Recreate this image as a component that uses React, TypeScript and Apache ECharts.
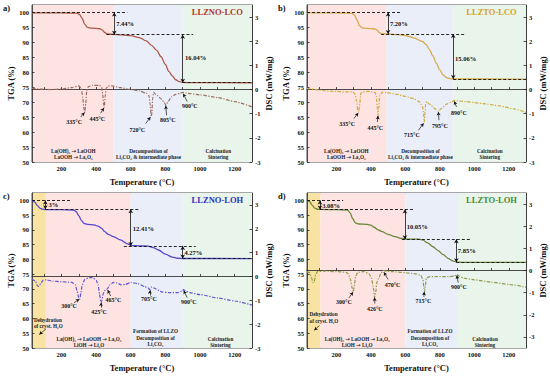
import React, { useEffect, useRef } from 'react';
import * as echarts from 'echarts';

const FONT = '"Liberation Serif", "Times New Roman", serif';

// ---------- ticks ----------
const xLabelValues = [200, 400, 600, 800, 1000, 1200];
const xTickValues = [100, 200, 300, 400, 500, 600, 700, 800, 900, 1000, 1100, 1200];
const tgaTickValues = [50, 55, 60, 65, 70, 75, 80, 85, 90, 95, 100];
const dscTickValues = [-3, -2, -1, 0, 1, 2, 3];

// ---------- TGA data (Temperature °C, mass %) ----------
const tgaA = [[30,99.9],[150,99.88],[250,99.82],[290,99.75],[305,99.3],[320,98.0],[335,96.0],[350,95.0],[375,94.75],[420,94.55],[435,94.2],[450,93.3],[465,92.8],[500,92.65],[550,92.5],[600,92.25],[650,91.6],[690,90.5],[720,89.0],[750,87.3],[775,85.2],[800,82.6],[820,80.3],[840,78.8],[860,77.5],[880,76.9],[900,76.6],[950,76.52],[1300,76.5]];
const tgaB = [[30,99.9],[150,99.88],[250,99.82],[290,99.7],[305,99.2],[320,97.5],[335,95.5],[350,94.85],[380,94.7],[420,94.55],[435,94.2],[448,93.3],[460,92.9],[500,92.8],[560,92.6],[600,92.3],[650,91.5],[700,90.3],[720,89.3],[740,87.6],[760,85.5],[780,83.0],[800,80.8],[820,79.1],[840,78.2],[860,77.85],[880,77.75],[1300,77.74]];
const tgaC = [[30,100],[45,99.5],[60,98.3],[75,97.4],[90,97.05],[110,96.9],[200,96.85],[270,96.75],[285,96.2],[300,94.8],[315,93.2],[330,92.2],[350,91.9],[390,91.7],[410,91.3],[430,90.6],[450,89.4],[470,88.5],[500,87.7],[540,86.6],[580,85.3],[605,84.7],[650,84.6],[700,84.5],[730,84.0],[760,83.2],[800,81.8],[840,80.8],[870,80.4],[900,80.32],[1300,80.3]];
const tgaD = [[30,100],[45,99.6],[60,98.4],[75,97.4],[90,97.0],[110,96.92],[200,96.85],[265,96.75],[280,95.8],[295,93.8],[310,92.4],[330,92.0],[380,91.85],[400,91.6],[420,90.9],[440,90.1],[465,89.4],[500,88.5],[540,87.7],[580,87.1],[610,86.9],[680,86.85],[700,86.6],[730,85.6],[760,84.3],[790,83.0],[820,81.6],[850,80.3],[875,79.5],[900,79.1],[930,79.02],[1300,79.0]];

// ---------- DSC data (Temperature °C, mW/mg) ----------
const dscA = [[30,0.05],[80,0.02],[140,0.0],[200,0.02],[260,0.08],[300,0.15],[315,0.05],[322,-0.3],[330,-0.8],[335,-0.95],[340,-0.6],[346,-0.05],[355,0.12],[380,0.17],[420,0.17],[432,0.1],[438,-0.2],[444,-0.65],[447,-0.75],[452,-0.3],[458,0.05],[470,0.15],[490,0.15],[540,0.08],[600,0.0],[650,-0.06],[690,-0.15],[705,-0.25],[712,-0.6],[718,-1.12],[722,-1.0],[726,-0.4],[732,-0.12],[745,-0.2],[770,-0.35],[790,-0.5],[803,-0.65],[815,-0.5],[835,-0.3],[860,-0.2],[885,-0.15],[900,-0.12],[920,-0.15],[1000,-0.22],[1100,-0.33],[1200,-0.5],[1300,-0.72]];
const dscB = [[30,0.05],[80,0.0],[140,-0.06],[200,-0.08],[260,-0.1],[295,-0.1],[310,-0.2],[318,-0.5],[325,-0.9],[330,-0.93],[336,-0.6],[342,-0.15],[355,-0.1],[380,-0.08],[425,-0.12],[433,-0.3],[438,-0.8],[442,-1.07],[446,-0.8],[452,-0.25],[465,-0.12],[490,-0.12],[550,-0.2],[600,-0.28],[650,-0.38],[680,-0.5],[700,-0.7],[706,-1.0],[710,-1.35],[714,-1.0],[718,-0.6],[724,-0.5],[740,-0.6],[770,-0.78],[792,-0.9],[810,-0.78],[840,-0.6],[870,-0.5],[885,-0.45],[900,-0.47],[950,-0.5],[1050,-0.58],[1150,-0.68],[1230,-0.8],[1300,-0.95]];
const dscC = [[30,-0.1],[50,-0.2],[62,-0.4],[70,-0.42],[80,-0.3],[95,-0.15],[110,-0.14],[150,-0.2],[200,-0.22],[260,-0.25],[280,-0.35],[290,-0.6],[300,-0.9],[306,-0.96],[312,-0.7],[320,-0.35],[335,-0.12],[360,-0.05],[380,-0.05],[400,-0.15],[412,-0.35],[420,-0.75],[428,-1.1],[434,-1.0],[440,-0.75],[448,-0.6],[455,-0.58],[465,-0.52],[480,-0.35],[500,-0.25],[520,-0.27],[545,-0.35],[570,-0.33],[600,-0.25],[640,-0.3],[680,-0.42],[700,-0.48],[710,-0.55],[718,-0.45],[730,-0.48],[780,-0.65],[820,-0.68],[870,-0.68],[895,-0.62],[905,-0.55],[915,-0.6],[940,-0.68],[1000,-0.76],[1100,-0.9],[1200,-1.03],[1300,-1.2]];
const dscD = [[30,-0.05],[45,-0.1],[55,-0.3],[65,-0.55],[72,-0.5],[80,-0.2],[90,-0.05],[130,-0.03],[200,-0.05],[255,-0.08],[270,-0.15],[282,-0.4],[292,-0.8],[298,-0.97],[304,-0.7],[312,-0.25],[325,-0.08],[360,-0.05],[390,-0.15],[405,-0.35],[415,-0.8],[422,-1.22],[428,-1.0],[436,-0.5],[448,-0.3],[460,-0.1],[472,0.0],[490,-0.03],[520,-0.05],[600,-0.1],[660,-0.15],[690,-0.22],[702,-0.4],[708,-0.75],[712,-0.95],[716,-0.7],[722,-0.35],[740,-0.28],[790,-0.27],[850,-0.28],[885,-0.25],[900,-0.18],[912,-0.25],[940,-0.35],[1000,-0.42],[1100,-0.53],[1200,-0.63],[1300,-0.75]];

// ---------- shaded regions [from, to, kind] ----------
const regionsA = [[30, 500, 'pink'], [500, 900, 'blue'], [900, 1300, 'green']];
const regionsB = [[30, 492, 'pink'], [492, 880, 'blue'], [880, 1300, 'green']];
const regionsC = [[30, 110, 'yellow'], [110, 600, 'pink'], [600, 900, 'blue'], [900, 1300, 'green']];
const regionsD = [[30, 108, 'yellow'], [108, 600, 'pink'], [600, 900, 'blue'], [900, 1300, 'green']];

// ---------- mass-loss steps ----------
const dashesA = [[30, 580, 100], [460, 960, 92.56], [900, 1300, 76.52]];
const dashesB = [[30, 580, 100], [460, 950, 92.8], [878, 1300, 77.74]];
const dashesC = [[30, 250, 100], [107, 650, 97], [560, 975, 84.59], [900, 1300, 80.32]];
const dashesD = [[30, 240, 100], [105, 650, 96.92], [580, 975, 86.87], [896, 1300, 79.02]];

const stepArrowsA = [[505, 100, 92.56], [900, 92.56, 76.52]];
const stepArrowsB = [[500, 100, 92.8], [878, 92.8, 77.74]];
const stepArrowsC = [[107, 100, 97], [600, 97, 84.59], [900, 84.59, 80.32]];
const stepArrowsD = [[105, 100, 96.92], [598, 96.92, 86.87], [896, 86.87, 79.02]];

const stepLabelsA = [{ text: '7.44%', at: [513, 96.2] }, { text: '16.04%', at: [911, 85.0] }];
const stepLabelsB = [{ text: '7.20%', at: [508, 96.2] }, { text: '15.06%', at: [886, 84.6] }];
const stepLabelsC = [{ text: '3%', at: [122, 98.5] }, { text: '12.41%', at: [609, 90.4] }, { text: '4.27%', at: [907, 82.4] }];
const stepLabelsD = [{ text: '3.08%', at: [115, 98.4] }, { text: '10.05%', at: [605, 91.3] }, { text: '7.85%', at: [902, 82.9] }];

// ---------- DSC peak annotations ----------
const peaksA = [
  { text: '335°C', at: [273, -1.34], from: [311, -1.14], to: [333, -0.95] },
  { text: '445°C', at: [407, -1.2], from: [426, -0.98], to: [445, -0.76] },
  { text: '720°C', at: [638, -1.66], from: [686, -1.41], to: [714, -1.14] },
  { text: '805°C', at: [814, -1.27], from: [807, -1.07], to: [802, -0.67] },
  { text: '900°C', at: [941, -0.7], from: [926, -0.5], to: [903, -0.17] },
];
const peaksB = [
  { text: '335°C', at: [263, -1.41], from: [302, -1.2], to: [327, -0.97] },
  { text: '445°C', at: [426, -1.58], from: [438, -1.34], to: [442, -1.09] },
  { text: '715°C', at: [638, -1.9], from: [676, -1.69], to: [706, -1.4] },
  { text: '795°C', at: [801, -1.52], from: [795, -1.27], to: [792, -0.93] },
  { text: '890°C', at: [911, -0.97], from: [897, -0.72], to: [884, -0.49] },
];
const peaksC = [
  { text: '300°C', at: [244, -1.24], from: [273, -1.1], to: [303, -0.95] },
  { text: '425°C', at: [417, -1.49], from: [427, -1.31], to: [429, -1.1] },
  { text: '465°C', at: [500, -0.99], from: [484, -0.82], to: [467, -0.57] },
  { text: '705°C', at: [705, -0.96], from: [710, -0.8], to: [711, -0.58] },
  { text: '900°C', at: [935, -1.07], from: [926, -0.89], to: [906, -0.6] },
];
const peaksD = [
  { text: '300°C', at: [244, -1.42], from: [273, -1.24], to: [297, -0.98] },
  { text: '426°C', at: [423, -1.72], from: [423, -1.49], to: [422, -1.22] },
  { text: '470°C', at: [526, -0.64], from: [500, -0.4], to: [476, -0.08] },
  { text: '715°C', at: [705, -1.39], from: [708, -1.19], to: [710, -0.96] },
  { text: '900°C', at: [911, -0.75], from: [907, -0.55], to: [899, -0.22] },
];

// ---------- region descriptions (TGA coords); {a|→} marks a bold arrow ----------
const regionTextsA = [
  { text: 'La(OH)₃ {a|→} LaOOH\nLaOOH {a|→} La₂O₃', at: [268, 52.7] },
  { text: 'Decomposition of\nLi₂CO₃ & intermediate phase', at: [703, 52.7] },
  { text: 'Calcination\nSintering', at: [1105, 52.7] },
];
const regionTextsB = [
  { text: 'La(OH)₃ {a|→} LaOOH\nLaOOH {a|→} La₂O₃', at: [258, 52.7] },
  { text: 'Decomposition of\nLi₂CO₃ & intermediate phase', at: [688, 52.7] },
  { text: 'Calcination\nSintering', at: [1090, 52.7] },
];
const regionTextsC = [
  { text: 'La(OH)₃ {a|→} LaOOH {a|→} La₂O₃\nLiOH {a|→} Li₂O', at: [359, 52.1] },
  { text: 'Formation of LLZO\nDecomposition of\nLi₂CO₃', at: [743, 53.4] },
  { text: 'Calcination\nSintering', at: [1118, 52.0] },
];
const regionTextsD = [
  { text: 'La(OH)₃ {a|→} LaOOH {a|→} La₂O₃\nLiOH {a|→} Li₂O', at: [321, 52.1] },
  { text: 'Formation of LLZO\nDecomposition of\nLi₂CO₃', at: [743, 53.4] },
  { text: 'Calcination\nSintering', at: [1062, 52.0] },
];
const dehydrationTextC = { text: 'Dehydration\nof cryst. H₂O', at: [38, 58.5] };
const dehydrationTextD = { text: 'Dehydration\nof cryst. H₂O', at: [42, 60.3] };
const dehydrationArrowC = [[110, 56.4], [72, 54.6]];
const dehydrationArrowD = [[102, 57.6], [72, 56.0]];

const REGION_COLORS: Record<string, string> = {
  pink: '#fde3e2',
  blue: '#eaeef9',
  green: '#e9f4ea',
  yellow: '#f9e3a2',
};

const panels = [
  {
    label: 'a)', title: 'LLZNO-LCO', titleColor: '#b3342b', tgaColor: '#ab5a48', dscColor: '#9e6f60',
    tga: tgaA, dsc: dscA, regions: regionsA, dashes: dashesA, arrows: stepArrowsA, stepLabels: stepLabelsA,
    peaks: peaksA, texts: regionTextsA, dehydText: null, dehydArrow: null, dscMin: -3,
    grid: { left: 32, top: 5, width: 220, height: 157 }, labelPos: [3, 3],
  },
  {
    label: 'b)', title: 'LLZTO-LCO', titleColor: '#d6a21e', tgaColor: '#d6aa4c', dscColor: '#cfab3c',
    tga: tgaB, dsc: dscB, regions: regionsB, dashes: dashesB, arrows: stepArrowsB, stepLabels: stepLabelsB,
    peaks: peaksB, texts: regionTextsB, dehydText: null, dehydArrow: null, dscMin: -3,
    grid: { left: 307, top: 5, width: 219, height: 157 }, labelPos: [278, 3],
  },
  {
    label: 'c)', title: 'LLZNO-LOH', titleColor: '#2b2fc2', tgaColor: '#5448d0', dscColor: '#5f57d2',
    tga: tgaC, dsc: dscC, regions: regionsC, dashes: dashesC, arrows: stepArrowsC, stepLabels: stepLabelsC,
    peaks: peaksC, texts: regionTextsC, dehydText: dehydrationTextC, dehydArrow: dehydrationArrowC, dscMin: -3,
    grid: { left: 32, top: 193, width: 220, height: 155 }, labelPos: [3, 191],
  },
  {
    label: 'd)', title: 'LLZTO-LOH', titleColor: '#3f8e36', tgaColor: '#6a8838', dscColor: '#8f9d48',
    tga: tgaD, dsc: dscD, regions: regionsD, dashes: dashesD, arrows: stepArrowsD, stepLabels: stepLabelsD,
    peaks: peaksD, texts: regionTextsD, dehydText: dehydrationTextD, dehydArrow: dehydrationArrowD, dscMin: -3.5,
    grid: { left: 307, top: 193, width: 219, height: 155 }, labelPos: [278, 191],
  },
];

const AXIS_COLOR = '#222';
const textBase = { fontFamily: FONT, fontWeight: 'bold' as const, color: '#111' };
const plain = (v: number) => String(v);

function buildPanel(p: any, i: number) {
  const grid = {
    ...p.grid, show: true, borderColor: AXIS_COLOR, borderWidth: 0.8, backgroundColor: 'transparent',
  };
  const axisLine = { show: true, lineStyle: { color: AXIS_COLOR, width: 0.8 } };
  const xAxis = {
    gridIndex: i, type: 'value', min: 30, max: 1300,
    name: 'Temperature (°C)', nameLocation: 'middle', nameGap: 15,
    nameTextStyle: { ...textBase, fontSize: 8.5 },
    axisLine,
    axisTick: { show: true, inside: true, length: 2.5, customValues: xTickValues, lineStyle: { color: AXIS_COLOR, width: 0.8 } },
    axisLabel: { customValues: xLabelValues, formatter: plain, ...textBase, fontSize: 6.5, margin: 3 },
    splitLine: { show: false },
  };
  const yLeft = {
    gridIndex: i, type: 'value', position: 'left', min: 50, max: 102.5,
    name: 'TGA (%)', nameLocation: 'middle', nameGap: 17,
    nameTextStyle: { ...textBase, fontSize: 8.5 },
    axisLine,
    axisTick: { show: true, inside: true, length: 2.5, customValues: tgaTickValues, lineStyle: { color: AXIS_COLOR, width: 0.8 } },
    axisLabel: { customValues: tgaTickValues, formatter: plain, ...textBase, fontSize: 6.5, margin: 3 },
    splitLine: { show: false },
  };
  const yRight = {
    gridIndex: i, type: 'value', position: 'right', min: p.dscMin, max: 3.5,
    name: 'DSC (mW/mg)', nameLocation: 'middle', nameGap: 12,
    nameTextStyle: { ...textBase, fontSize: 8.5 },
    axisLine,
    axisTick: { show: true, inside: true, length: 2.5, customValues: dscTickValues, lineStyle: { color: AXIS_COLOR, width: 0.8 } },
    axisLabel: { customValues: dscTickValues, formatter: plain, ...textBase, fontSize: 6.5, margin: 3 },
    splitLine: { show: false },
  };

  const markAreaData = p.regions.map((r: any) => [
    { xAxis: r[0], itemStyle: { color: REGION_COLORS[r[2]] } },
    { xAxis: r[1] },
  ]);

  const tgaLines: any[] = [];
  p.dashes.forEach((d: number[]) => {
    tgaLines.push([
      { coord: [d[0], d[2]], symbol: 'none', lineStyle: { type: [3, 2], color: '#111', width: 0.9 } },
      { coord: [d[1], d[2]], symbol: 'none' },
    ]);
  });
  p.arrows.forEach((a: number[]) => {
    tgaLines.push([
      { coord: [a[0], a[1]], symbol: 'arrow', symbolSize: [3.5, 4], lineStyle: { type: 'solid', color: '#111', width: 0.8 } },
      { coord: [a[0], a[2]], symbol: 'arrow', symbolSize: [3.5, 4] },
    ]);
  });
  if (p.dehydArrow) {
    tgaLines.push([
      { coord: p.dehydArrow[0], symbol: 'none', lineStyle: { type: 'solid', color: '#111', width: 0.7 } },
      { coord: p.dehydArrow[1], symbol: 'arrow', symbolSize: [3, 3.5] },
    ]);
  }

  const smallText = { ...textBase, fontSize: 5.2, lineHeight: 6.5, color: '#222' };
  const arrowRich = { a: { fontFamily: '"DejaVu Sans", sans-serif', fontWeight: 'bold', fontSize: 5.5, color: '#222', lineHeight: 6.5 } };

  const tgaPoints: any[] = [];
  p.stepLabels.forEach((s: any) => {
    tgaPoints.push({
      coord: s.at,
      label: { show: true, position: 'right', distance: 0, formatter: s.text, ...textBase, fontSize: 6.5 },
    });
  });
  p.texts.forEach((t: any) => {
    tgaPoints.push({
      coord: t.at,
      label: { show: true, position: 'inside', formatter: t.text, ...smallText, align: 'center', rich: arrowRich },
    });
  });
  if (p.dehydText) {
    tgaPoints.push({
      coord: p.dehydText.at,
      label: { show: true, position: 'right', distance: 0, formatter: p.dehydText.text, ...smallText, align: 'left' },
    });
  }
  tgaPoints.push({
    coord: [1100, 100],
    label: { show: true, position: 'inside', formatter: p.title, ...textBase, color: p.titleColor, fontSize: 8.5 },
  });

  const dscLines = p.peaks.map((pk: any) => [
    { coord: pk.from, symbol: 'none', lineStyle: { type: 'solid', color: '#111', width: 0.7 } },
    { coord: pk.to, symbol: 'arrow', symbolSize: [3, 3.5] },
  ]);
  const dscPoints = p.peaks.map((pk: any) => ({
    coord: pk.at,
    label: { show: true, position: 'inside', formatter: pk.text, ...textBase, fontSize: 6 },
  }));

  const series = [
    {
      type: 'line', xAxisIndex: i, yAxisIndex: 2 * i, data: p.tga, showSymbol: false, symbol: 'none',
      smooth: 0.3, smoothMonotone: 'x', silent: true, z: 3,
      lineStyle: { color: p.tgaColor, width: 1.3 },
      markArea: { silent: true, z: 0, data: markAreaData },
      markLine: { silent: true, symbol: 'none', label: { show: false }, data: tgaLines },
      markPoint: { silent: true, symbol: 'rect', symbolSize: 1, itemStyle: { color: 'rgba(0,0,0,0)' }, data: tgaPoints },
    },
    {
      type: 'line', xAxisIndex: i, yAxisIndex: 2 * i + 1, data: p.dsc, showSymbol: false, symbol: 'none',
      smooth: 0.2, smoothMonotone: 'x', silent: true, z: 3,
      lineStyle: { color: p.dscColor, width: 1.2, type: [3.5, 1.5, 1.2, 1.5] },
      markLine: { silent: true, symbol: 'none', label: { show: false }, data: dscLines },
      markPoint: { silent: true, symbol: 'rect', symbolSize: 1, itemStyle: { color: 'rgba(0,0,0,0)' }, data: dscPoints },
    },
  ];

  return { grid, xAxis, yAxes: [yLeft, yRight], series };
}

export default function App() {
  const ref = useRef<HTMLDivElement>(null);
  useEffect(() => {
    if (!ref.current) return;
    const chart = echarts.init(ref.current, null, { renderer: 'svg' });
    const built = panels.map((p, i) => buildPanel(p, i));
    const option: any = {
      animation: false,
      backgroundColor: '#ffffff',
      grid: built.map((b) => b.grid),
      xAxis: built.map((b) => b.xAxis),
      yAxis: built.flatMap((b) => b.yAxes),
      series: built.flatMap((b) => b.series),
      graphic: panels.map((p) => ({
        type: 'text', left: p.labelPos[0], top: p.labelPos[1],
        style: { text: p.label, font: `bold 8.5px ${FONT}`, fill: '#111' },
      })),
    };
    chart.setOption(option);
    return () => chart.dispose();
  }, []);
  return <div ref={ref} style={{ position: 'absolute', left: 0, top: 0, width: 550, height: 376 }} />;
}
